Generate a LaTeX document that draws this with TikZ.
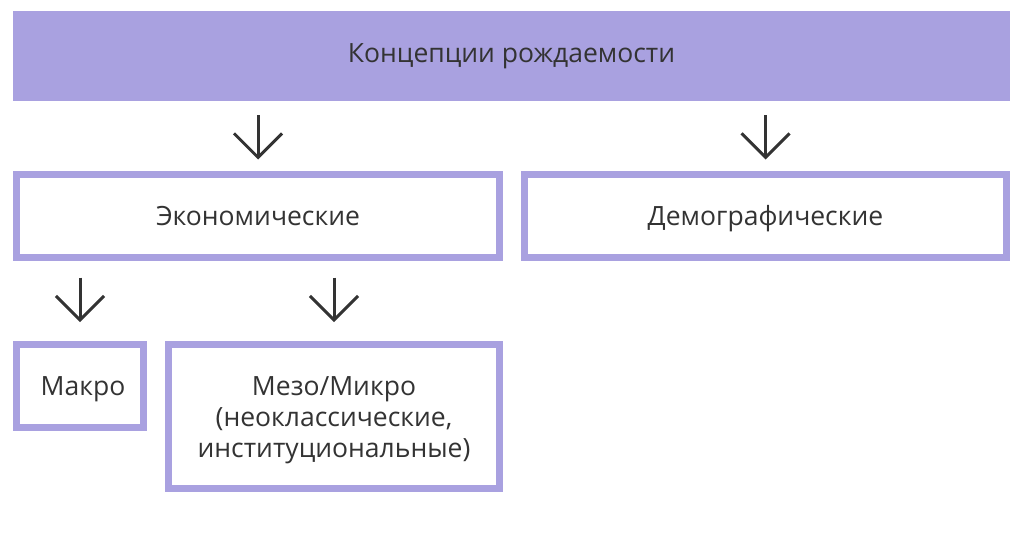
\documentclass[tikz,border=0pt]{standalone}
\usepackage{fontspec}
\setmainfont{Open Sans}
\usetikzlibrary{arrows.meta}
\definecolor{lav}{HTML}{A9A1E0}
\definecolor{ink}{HTML}{333333}
\begin{document}
\begin{tikzpicture}[x=1pt,y=-1pt,
  box/.style={draw=lav,line width=7pt,fill=white,text=ink,align=center,inner sep=0pt,font=\fontsize{26.5}{31}\selectfont},
  one/.style={text height=19pt,text depth=0pt},
  arr/.style={draw=ink,line width=3pt,-{Straight Barb[length=24pt,width=48pt]}}]
\useasboundingbox (0,0) rectangle (1024,541);
\node[fill=lav,text=ink,minimum width=997pt,minimum height=90pt,inner sep=0pt,text height=13pt,text depth=0pt,font=\fontsize{26.5}{31}\selectfont] (top) at (511.5,56) {Концепции рождаемости};
\node[box,one,minimum width=483pt,minimum height=83pt] (econ) at (258,215.5) {Экономические};
\node[box,one,minimum width=482pt,minimum height=83pt] (demo) at (765.5,215.5) {Демографические};
\node[box,one,minimum width=127pt,minimum height=83pt] (makro) at (80,386) {\hspace{6pt}Макро};
\node[box,text height=81pt,text depth=0pt,minimum width=331pt,minimum height=144pt] (mezo) at (334,416.5) {Мезо/Микро\\(неоклассические,\\институциональные)};
\draw[arr,shorten <=14pt,shorten >=11pt] (top.south -| econ.north) -- (econ.north);
\draw[arr,shorten <=14pt,shorten >=11pt] (top.south -| demo.north) -- (demo.north);
\draw[arr,shorten <=17pt,shorten >=19pt] (econ.south -| makro.north) -- (makro.north);
\draw[arr,shorten <=17pt,shorten >=19pt] (econ.south -| mezo.north) -- (mezo.north);
\end{tikzpicture}
\end{document}
